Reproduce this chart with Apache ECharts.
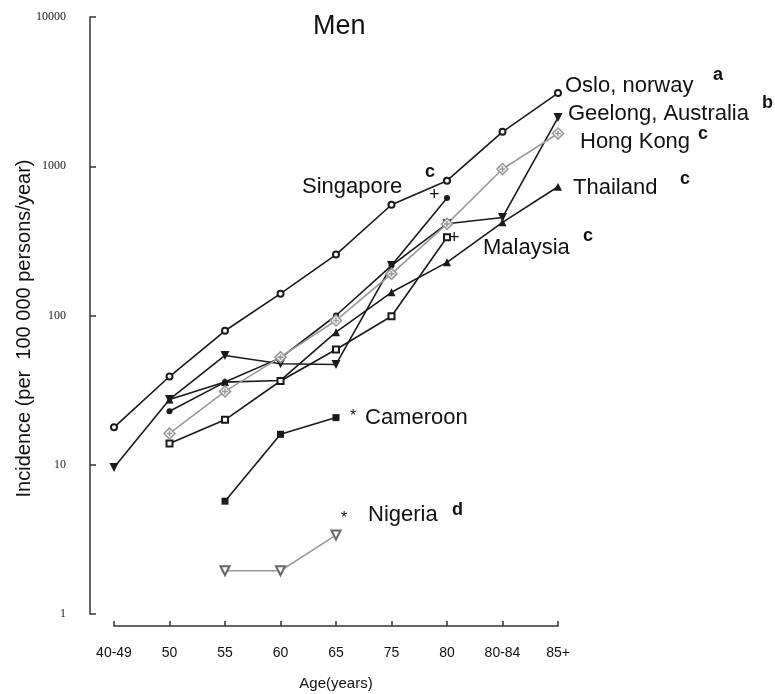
<!DOCTYPE html>
<html>
<head>
<meta charset="utf-8">
<style>
  html, body { margin: 0; padding: 0; background: #fff; }
  #chart { width: 775px; height: 694px; }
</style>
<script src="https://cdn.jsdelivr.net/npm/echarts@6/dist/echarts.min.js"></script>
</head>
<body>
<div id="chart"></div>
<script>
// 年龄分组
const ages = ['40-49', '50', '55', '60', '65', '75', '80', '80-84', '85+']
// y 轴刻度（对数）
const yTicks = [1, 10, 100, 1000, 10000]

// 各地区发病率 (per 100 000 persons/year)
const oslo = [17.8, 39, 79, 140, 256, 552, 800, 1700, 3090]
const geelong = [9.6, 27.4, 54, 47.5, 47, 216, 412, 454, 2120]
const hongKong = [null, 16.2, 31, 52.6, 92.6, 190, 411, 958, 1657]
const thailand = [null, 27.4, 35.8, 36.7, 77.3, 143, 227, 421, 729]
const singapore = [null, 22.8, 35.8, 52, 100, 216, 612, null, null]
const malaysia = [null, 13.9, 20, 36.4, 59.2, 98.9, 334, null, null]
const cameroon = [null, null, 5.7, 16, 20.7, null, null, null, null]
const nigeria = [null, null, 1.95, 1.95, 3.38, null, null, null, null]

const chart = echarts.init(document.getElementById('chart'))

const black = '#1a1a1a'
const gray = '#9a9a9a'
// 带十字的菱形（Hong Kong）
const crossDiamond = 'path://M5,0L10,5L5,10L0,5Z M5,2.4L5,7.6 M2.4,5L7.6,5'

// 生成一条折线
function line (name, data, symbol, size, color, extra) {
  return Object.assign({
    name: name,
    type: 'line',
    data: data,
    symbol: symbol,
    symbolSize: size,
    connectNulls: false,
    animation: false,
    lineStyle: { color: color, width: 1.6 },
    itemStyle: { color: color }
  }, extra || {})
}

// 图中的文字标注
function note (text, left, cy, size, bold) {
  return {
    type: 'text',
    left: left,
    top: cy - size * 0.6,
    style: {
      text: text,
      fontFamily: 'Liberation Sans, Arial, sans-serif',
      fontSize: size,
      fontWeight: bold ? 'bold' : 'normal',
      fill: '#111'
    }
  }
}

const option = {
  backgroundColor: '#fff',
  animation: false,
  grid: {
    left: 114,
    right: 217,
    top: 17,
    bottom: 80,
    containLabel: false,
    outerBoundsMode: 'none'
  },
  xAxis: {
    type: 'category',
    data: ages,
    boundaryGap: false,
    offset: 12,
    name: 'Age(years)',
    nameLocation: 'middle',
    nameGap: 50,
    nameTextStyle: { fontFamily: 'Liberation Sans, Arial', fontSize: 15, color: '#111' },
    axisLine: { lineStyle: { color: '#333', width: 1.5 } },
    axisTick: { inside: true, length: 5, lineStyle: { color: '#333', width: 1.5 } },
    axisLabel: { fontFamily: 'Liberation Sans, Arial', fontSize: 14, color: '#111', margin: 20 },
    splitLine: { show: false }
  },
  yAxis: {
    type: 'log',
    logBase: 10,
    min: yTicks[0],
    max: yTicks[yTicks.length - 1],
    offset: 24,
    name: 'Incidence (per  100 000 persons/year)',
    nameLocation: 'middle',
    nameGap: 56,
    nameMoveOverlap: false,
    nameTextStyle: {
      fontFamily: 'Liberation Sans, Arial',
      fontSize: 20,
      color: '#111',
      padding: [0, 26, 0, 0]
    },
    axisLine: { show: true, lineStyle: { color: '#333', width: 1.5 } },
    axisTick: { show: true, inside: true, length: 6, lineStyle: { color: '#333', width: 1.5 } },
    minorTick: { show: false },
    axisLabel: {
      fontFamily: 'Liberation Serif, Times New Roman, serif',
      fontSize: 12,
      color: '#222',
      margin: 24,
      formatter: function (v) { return String(v) }
    },
    splitLine: { show: false }
  },
  graphic: [
    note('Men', 313, 29, 27),
    note('Oslo, norway', 565, 88, 22),
    note('a', 713, 77, 18, true),
    note('Geelong, Australia', 568, 116, 22),
    note('b', 762, 105, 18, true),
    note('Hong Kong', 580, 144, 22),
    note('c', 698, 136, 18, true),
    note('Singapore', 302, 189, 22),
    note('c', 425, 174, 18, true),
    note('+', 429, 197, 18),
    note('Thailand', 573, 190, 22),
    note('c', 680, 181, 18, true),
    note('Malaysia', 483, 250, 22),
    note('c', 583, 238, 18, true),
    note('+', 449, 240, 18),
    note('*', 350, 418, 16),
    note('Cameroon', 365, 420, 22),
    note('*', 341, 520, 16),
    note('Nigeria', 368, 517, 22),
    note('d', 452, 512, 18, true)
  ],
  series: [
    line('Oslo, norway', oslo, 'emptyCircle', 6, black),
    line('Geelong, Australia', geelong, 'triangle', 9, black, { symbolRotate: 180 }),
    line('Thailand', thailand, 'triangle', 8, black),
    line('Singapore', singapore, 'circle', 6, black),
    line('Malaysia', malaysia, 'emptyRect', 6, black),
    line('Cameroon', cameroon, 'rect', 7, black),
    line('Nigeria', nigeria, 'emptyTriangle', 9, gray, {
      symbolRotate: 180,
      itemStyle: { color: '#666' }
    }),
    line('Hong Kong', hongKong, crossDiamond, 11, gray, {
      itemStyle: { color: '#fff', borderColor: gray, borderWidth: 1.6 }
    })
  ]
}

chart.setOption(option)
</script>
</body>
</html>
